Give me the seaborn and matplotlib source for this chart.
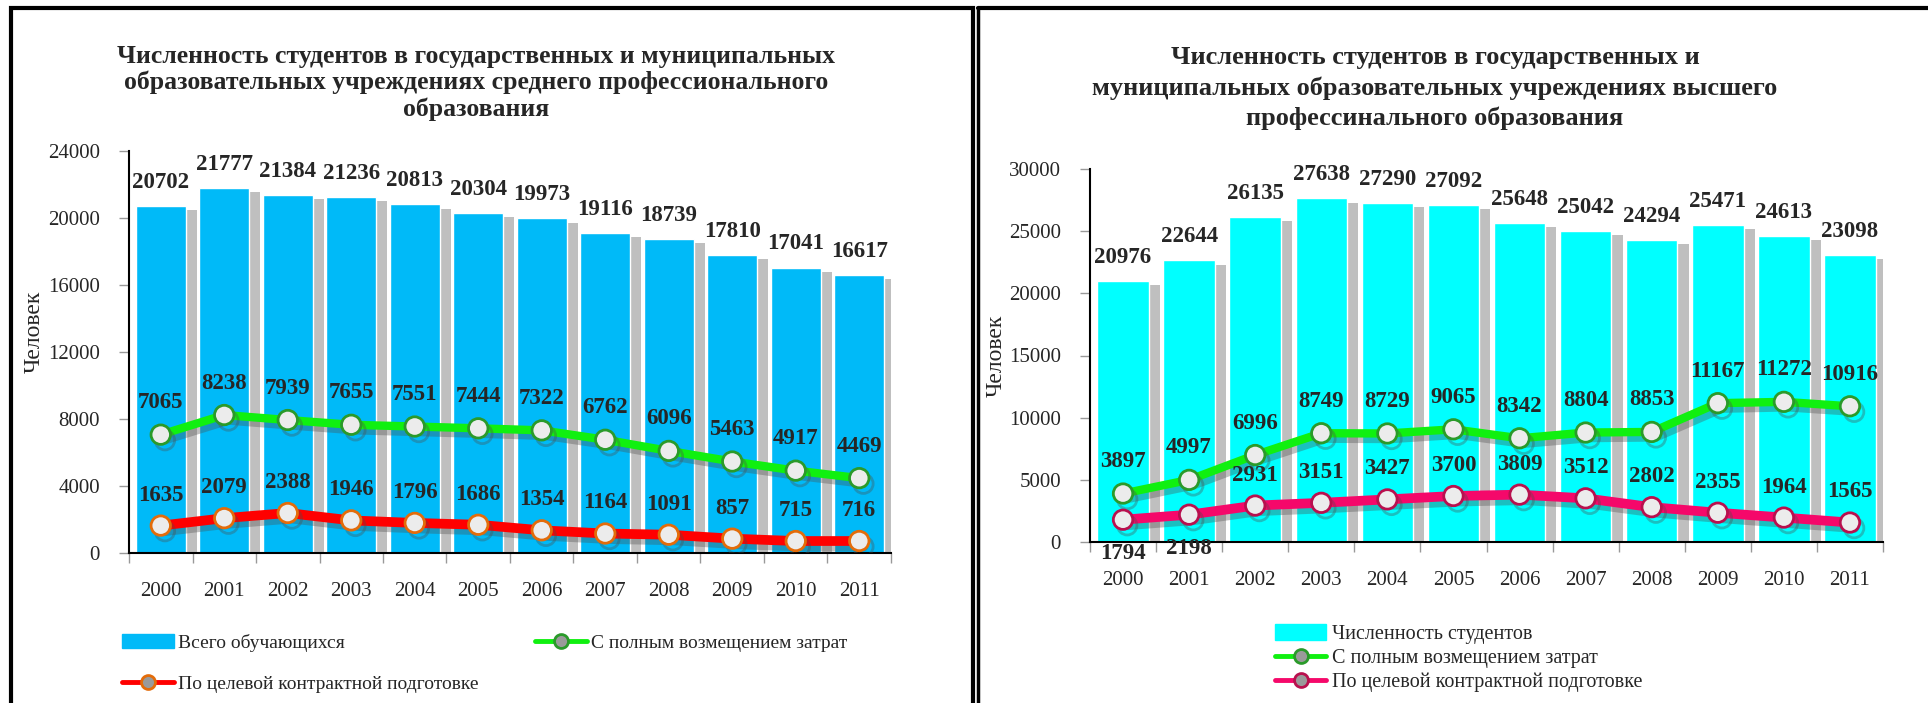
import numpy as np
import pandas as pd
import matplotlib
matplotlib.use('Agg')
import matplotlib.pyplot as plt
import matplotlib.patheffects as pe
from matplotlib.patches import Patch, Rectangle
from matplotlib.lines import Line2D
import seaborn as sns

# Данные
years = ['2000', '2001', '2002', '2003', '2004', '2005', '2006', '2007', '2008', '2009', '2010', '2011']

spo_total = [20702, 21777, 21384, 21236, 20813, 20304, 19973, 19116, 18739, 17810, 17041, 16617]
spo_paid = [7065, 8238, 7939, 7655, 7551, 7444, 7322, 6762, 6096, 5463, 4917, 4469]
spo_target = [1635, 2079, 2388, 1946, 1796, 1686, 1354, 1164, 1091, 857, 715, 716]

vpo_total = [20976, 22644, 26135, 27638, 27290, 27092, 25648, 25042, 24294, 25471, 24613, 23098]
vpo_paid = [3897, 4997, 6996, 8749, 8729, 9065, 8342, 8804, 8853, 11167, 11272, 10916]
vpo_target = [1794, 2198, 2931, 3151, 3427, 3700, 3809, 3512, 2802, 2355, 1964, 1565]

title_spo = ('Численность студентов в государственных и муниципальных\n'
             'образовательных учреждениях среднего профессионального\n'
             'образования')
title_vpo = ('Численность студентов в государственных и\n'
             'муниципальных образовательных учреждениях высшего\n'
             'профессинального образования')

sns.set_theme(style='ticks')
plt.rcParams['font.family'] = ['Liberation Serif', 'DejaVu Serif']
plt.rcParams['axes.linewidth'] = 1.5

fig = plt.figure(figsize=(19.28, 7.03), dpi=100)
W, H = 1928, 703


def px_axes(x0, x1, ytop, ybot):
    return fig.add_axes([x0 / W, 1 - ybot / H, (x1 - x0) / W, (ybot - ytop) / H])


bar_shadow = [pe.SimplePatchShadow(offset=(8, -3), shadow_rgbFace='0.55', alpha=0.55), pe.Normal()]
line_shadow = [pe.SimpleLineShadow(offset=(3, -4), shadow_color='0.3', alpha=0.35), pe.Normal()]


def draw_panel(ax, total, paid, target, bar_color, paid_color, paid_edge,
               tgt_color, tgt_edge, ymax, ystep, below_idx=()):
    df = pd.DataFrame({'year': years, 'total': total, 'paid': paid, 'target': target})
    sns.barplot(data=df, x='year', y='total', color=bar_color, saturation=1,
                width=0.78, ax=ax, zorder=1)
    for p in ax.patches:
        p.set_path_effects(bar_shadow)
    sns.pointplot(data=df, x='year', y='paid', color=paid_color, markers='o',
                  linestyles='-', ax=ax, linewidth=6, markersize=14,
                  markerfacecolor='#ececec', markeredgecolor=paid_edge,
                  markeredgewidth=2, zorder=3)
    sns.pointplot(data=df, x='year', y='target', color=tgt_color, markers='o',
                  linestyles='-', ax=ax, linewidth=7, markersize=14,
                  markerfacecolor='#ececec', markeredgecolor=tgt_edge,
                  markeredgewidth=2, zorder=3)
    for ln in ax.lines:
        ln.set_path_effects(line_shadow)

    lab = dict(ha='center', va='center', fontsize=16.5, fontweight='bold',
               textcoords='offset points', zorder=5)
    for i, v in enumerate(total):
        ax.annotate(str(v), (i, v), xytext=(0, 17), **lab)
    for i, v in enumerate(paid):
        ax.annotate(str(v), (i, v), xytext=(0, 23), **lab)
    for i, v in enumerate(target):
        dy = -24 if i in below_idx else 22
        ax.annotate(str(v), (i, v), xytext=(0, dy), **lab)

    ax.set_ylim(0, ymax)
    ax.set_xlim(-0.5, len(years) - 0.5)
    ax.set_yticks(np.arange(0, ymax + 1, ystep))
    ax.set_xticks(range(len(years)))
    ax.set_xticklabels(years)
    ax.set_xticks(np.arange(len(years) + 1) - 0.5, minor=True)
    ax.tick_params(axis='x', which='major', length=0, pad=21, labelsize=15)
    ax.tick_params(axis='x', which='minor', length=7, color='0.6', width=1)
    ax.tick_params(axis='y', length=7, color='0.6', width=1, pad=14, labelsize=15)
    ax.set_xlabel('')
    ax.set_ylabel('Человек', fontsize=17)
    for s in ['top', 'right']:
        ax.spines[s].set_visible(False)
    ax.spines['left'].set_color('black')
    ax.spines['bottom'].set_color('black')


ax1 = px_axes(129, 891, 151, 553)
draw_panel(ax1, spo_total, spo_paid, spo_target, '#00BAF8', '#10F010', '#2A9A2A',
           '#FF0000', '#E36C0A', 24000, 4000)
ax1.yaxis.set_label_coords(-0.11, 0.55)

ax2 = px_axes(1090, 1883, 169, 542)
draw_panel(ax2, vpo_total, vpo_paid, vpo_target, '#00FFFF', '#10F010', '#2A9A2A',
           '#F5086A', '#B8104E', 30000, 5000, below_idx=(0, 1))
ax2.yaxis.set_label_coords(-0.105, 0.5)

fig.text(476 / W, 1 - 83 / H, title_spo, ha='center', va='center', fontsize=18.5,
         fontweight='bold', linespacing=1.16)
fig.text(1435 / W, 1 - 88 / H, title_vpo, ha='center', va='center', fontsize=19,
         fontweight='bold', linespacing=1.36)

# Легенды
def ball(color, edge):
    return Line2D([], [], color=color, lw=3.5, marker='o', markersize=10,
                  markerfacecolor='#9a9a9a', markeredgecolor=edge, markeredgewidth=2)

h1 = [Patch(color='#00BAF8'), ball('#FF0000', '#E36C0A'), ball('#10F010', '#2A9A2A')]
l1 = ['Всего обучающихся', 'По целевой контрактной подготовке', 'С полным возмещением затрат']
fig.legend(h1, l1, ncol=2, loc='upper left', bbox_to_anchor=(104 / W, 1 - 616 / H),
           frameon=False, fontsize=14, handlelength=2.7, handleheight=0.8,
           labelspacing=1.2, columnspacing=2.9, handletextpad=0.2)

h2 = [Patch(color='#00FFFF'), ball('#10F010', '#2A9A2A'), ball('#F5086A', '#B8104E')]
l2 = ['Численность студентов', 'С полным возмещением затрат', 'По целевой контрактной подготовке']
fig.legend(h2, l2, ncol=1, loc='upper left', bbox_to_anchor=(1257 / W, 1 - 606 / H),
           frameon=False, fontsize=14.5, handlelength=2.55, handleheight=0.8,
           labelspacing=0.22, handletextpad=0.25)

# Рамки панелей
fig.add_artist(Rectangle((11 / W, -0.05), (962 / W), 1 - 8 / H + 0.05,
                         transform=fig.transFigure, fill=False, lw=3, ec='black'))
fig.add_artist(Line2D([978 / W, 978 / W], [-0.05, 1 - 8 / H], transform=fig.transFigure,
                      lw=2.5, color='black'))
fig.add_artist(Line2D([978 / W, 1.0], [1 - 8 / H, 1 - 8 / H], transform=fig.transFigure,
                      lw=3, color='black'))

fig.savefig('out.png', dpi=100)
